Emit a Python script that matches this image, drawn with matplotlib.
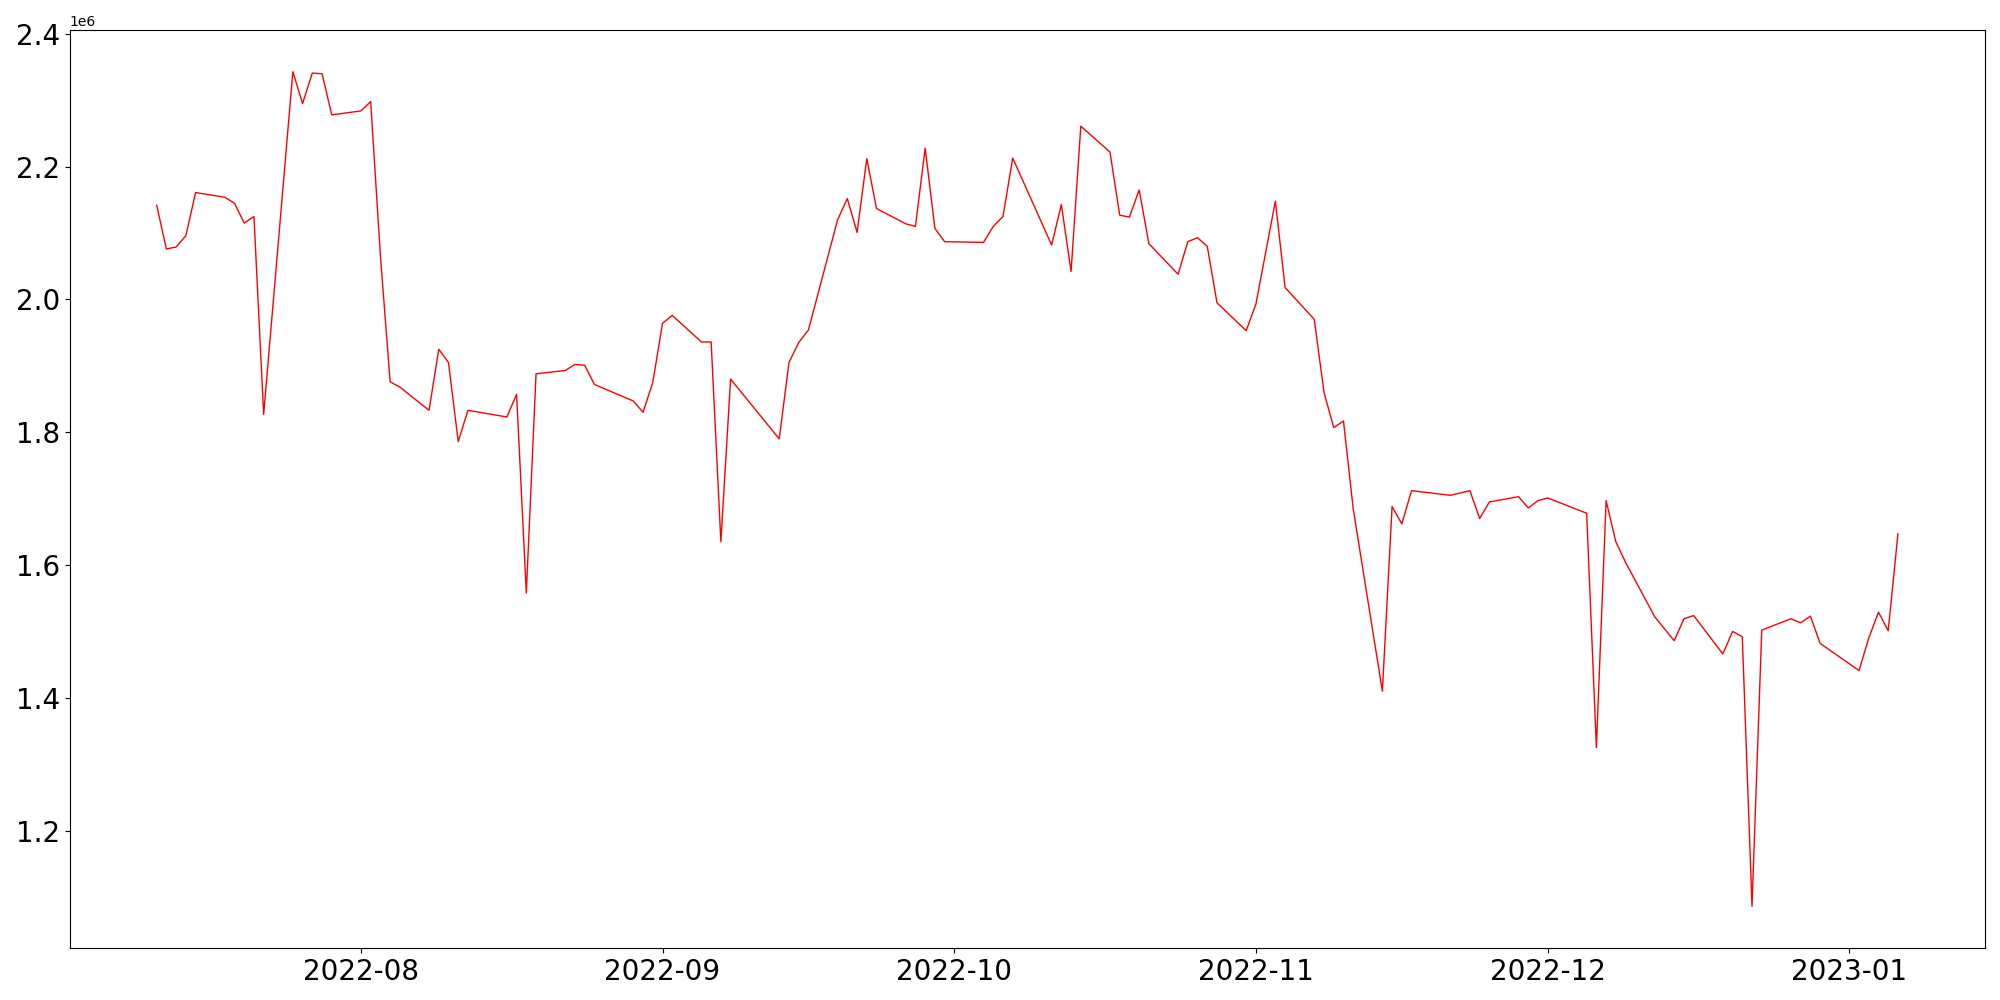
import matplotlib
matplotlib.use("Agg")
import matplotlib.pyplot as plt
import pandas as pd

dates = [
    "2022-07-11", "2022-07-12", "2022-07-13", "2022-07-14", "2022-07-15",
    "2022-07-18", "2022-07-19", "2022-07-20", "2022-07-21", "2022-07-22",
    "2022-07-25", "2022-07-26", "2022-07-27", "2022-07-28", "2022-07-29",
    "2022-08-01", "2022-08-02", "2022-08-03", "2022-08-04", "2022-08-05",
    "2022-08-08", "2022-08-09", "2022-08-10", "2022-08-11", "2022-08-12",
    "2022-08-16", "2022-08-17", "2022-08-18", "2022-08-19",
    "2022-08-22", "2022-08-23", "2022-08-24", "2022-08-25",
    "2022-08-29", "2022-08-30", "2022-08-31", "2022-09-01", "2022-09-02",
    "2022-09-05", "2022-09-06", "2022-09-07", "2022-09-08",
    "2022-09-13", "2022-09-14", "2022-09-15", "2022-09-16",
    "2022-09-19", "2022-09-20", "2022-09-21", "2022-09-22", "2022-09-23",
    "2022-09-26", "2022-09-27", "2022-09-28", "2022-09-29", "2022-09-30",
    "2022-10-04", "2022-10-05", "2022-10-06", "2022-10-07",
    "2022-10-11", "2022-10-12", "2022-10-13", "2022-10-14",
    "2022-10-17", "2022-10-18", "2022-10-19", "2022-10-20", "2022-10-21",
    "2022-10-24", "2022-10-25", "2022-10-26", "2022-10-27", "2022-10-28",
    "2022-10-31", "2022-11-01", "2022-11-03", "2022-11-04",
    "2022-11-07", "2022-11-08", "2022-11-09", "2022-11-10", "2022-11-11",
    "2022-11-14", "2022-11-15", "2022-11-16", "2022-11-17",
    "2022-11-21", "2022-11-23", "2022-11-24", "2022-11-25",
    "2022-11-28", "2022-11-29", "2022-11-30", "2022-12-01",
    "2022-12-05", "2022-12-06", "2022-12-07", "2022-12-08", "2022-12-09",
    "2022-12-12", "2022-12-14", "2022-12-15", "2022-12-16",
    "2022-12-19", "2022-12-20", "2022-12-21", "2022-12-22", "2022-12-23",
    "2022-12-26", "2022-12-27", "2022-12-28", "2022-12-29",
    "2023-01-02", "2023-01-03", "2023-01-04", "2023-01-05", "2023-01-06",
]

values = [
    2.142e6, 2.076e6, 2.079e6, 2.096e6, 2.161e6,
    2.154e6, 2.145e6, 2.115e6, 2.125e6, 1.827e6,
    2.343e6, 2.295e6, 2.341e6, 2.340e6, 2.278e6,
    2.284e6, 2.298e6, 2.066e6, 1.876e6, 1.868e6,
    1.833e6, 1.925e6, 1.905e6, 1.786e6, 1.833e6,
    1.823e6, 1.857e6, 1.558e6, 1.888e6,
    1.893e6, 1.902e6, 1.901e6, 1.872e6,
    1.847e6, 1.830e6, 1.875e6, 1.964e6, 1.976e6,
    1.936e6, 1.936e6, 1.635e6, 1.880e6,
    1.790e6, 1.905e6, 1.935e6, 1.954e6,
    2.120e6, 2.152e6, 2.101e6, 2.212e6, 2.137e6,
    2.114e6, 2.110e6, 2.228e6, 2.107e6, 2.087e6,
    2.086e6, 2.110e6, 2.125e6, 2.213e6,
    2.082e6, 2.143e6, 2.042e6, 2.261e6,
    2.222e6, 2.127e6, 2.124e6, 2.165e6, 2.084e6,
    2.038e6, 2.087e6, 2.093e6, 2.080e6, 1.995e6,
    1.953e6, 1.993e6, 2.148e6, 2.018e6,
    1.970e6, 1.860e6, 1.807e6, 1.817e6, 1.685e6,
    1.410e6, 1.688e6, 1.662e6, 1.712e6,
    1.705e6, 1.712e6, 1.670e6, 1.695e6,
    1.703e6, 1.686e6, 1.697e6, 1.701e6,
    1.678e6, 1.325e6, 1.697e6, 1.635e6, 1.604e6,
    1.522e6, 1.486e6, 1.519e6, 1.524e6,
    1.466e6, 1.500e6, 1.492e6, 1.086e6, 1.502e6,
    1.519e6, 1.513e6, 1.523e6, 1.482e6,
    1.441e6, 1.490e6, 1.529e6, 1.501e6, 1.647e6,
]

x = pd.to_datetime(dates)

fig = plt.figure(figsize=(20, 10), dpi=100)
ax = fig.add_subplot(111)
fig.subplots_adjust(left=0.0348, right=0.9925, bottom=0.052, top=0.970)
ax.plot(x, values, color="red", linewidth=1.0)
ax.tick_params(axis="both", labelsize=20)
fig.savefig("out.png", dpi=100)
